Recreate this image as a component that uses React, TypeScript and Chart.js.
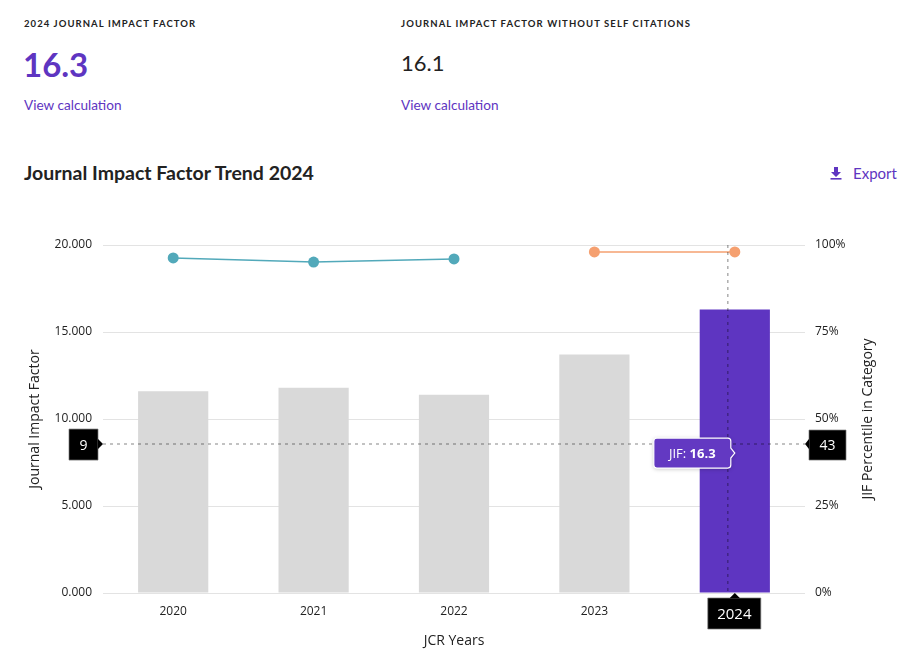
import React, { useEffect, useRef } from "react";
import { Chart, registerables } from "chart.js";

Chart.register(...registerables);

// ---- Data ----
const years = ["2020", "2021", "2022", "2023", "2024"];
const jifValues = [11.6, 11.8, 11.4, 13.7, 16.3];
const percentileA = [96.3, 95.1, 96.0, null, null];
const percentileB = [null, null, null, 98.0, 98.0];
const jifTicks = [0, 5, 10, 15, 20];
const percentileTicks = [0, 25, 50, 75, 100];
const highlightIndex = 4;
const crosshairPercentile = 42.8;
const headerJif = "16.3";
const headerJifNoSelf = "16.1";
const rightAxisTitle = "JIF Percentile in Category";

const PURPLE = "#5e35c1";
const GRAY = "#d9d9d9";
const TEAL = "#52a9ba";
const ORANGE = "#f5a070";
const FONT = "'Open Sans', sans-serif";

function drawBox(
  ctx: CanvasRenderingContext2D,
  x: number,
  y: number,
  w: number,
  h: number,
  caret: "left" | "right" | "up",
  tipX: number,
  tipY: number,
  text: string,
  fontSize: number
) {
  ctx.save();
  ctx.fillStyle = "#000";
  ctx.strokeStyle = "rgba(120,120,120,0.7)";
  ctx.lineWidth = 1;
  ctx.beginPath();
  ctx.rect(x, y, w, h);
  ctx.fill();
  ctx.stroke();
  ctx.beginPath();
  if (caret === "right") {
    ctx.moveTo(x + w, tipY - 5);
    ctx.lineTo(tipX, tipY);
    ctx.lineTo(x + w, tipY + 5);
  } else if (caret === "left") {
    ctx.moveTo(x, tipY - 5);
    ctx.lineTo(tipX, tipY);
    ctx.lineTo(x, tipY + 5);
  } else {
    ctx.moveTo(tipX - 5, y);
    ctx.lineTo(tipX, tipY);
    ctx.lineTo(tipX + 5, y);
  }
  ctx.closePath();
  ctx.fill();
  ctx.fillStyle = "#fff";
  ctx.font = `${fontSize}px ${FONT}`;
  ctx.textAlign = "center";
  ctx.textBaseline = "middle";
  ctx.fillText(text, x + w / 2, y + h / 2 + 1);
  ctx.restore();
}

const overlayPlugin = {
  id: "overlay",
  afterDatasetsDraw(chart: any) {
    const { ctx, chartArea, scales } = chart;
    const { left, right, top, bottom } = chartArea;
    const yPix = scales.yR.getPixelForValue(crosshairPercentile);
    const catX = scales.x.getPixelForValue(highlightIndex);
    const cursorX = catX - 7;

    // crosshair
    ctx.save();
    ctx.strokeStyle = "rgba(0,0,0,0.32)";
    ctx.lineWidth = 1.5;
    ctx.setLineDash([3, 4]);
    ctx.beginPath();
    ctx.moveTo(left, yPix);
    ctx.lineTo(right, yPix);
    ctx.moveTo(cursorX, top);
    ctx.lineTo(cursorX, bottom);
    ctx.stroke();
    ctx.restore();

    // tooltip
    const val = jifValues[highlightIndex];
    const tw = 77;
    const th = 30;
    const tipX = catX;
    const tipY = yPix + 9;
    const bx = tipX - 4 - tw;
    const by = tipY - th / 2;
    ctx.save();
    ctx.shadowColor = "rgba(0,0,0,0.25)";
    ctx.shadowBlur = 4;
    ctx.shadowOffsetY = 1;
    ctx.fillStyle = "#6339c2";
    ctx.strokeStyle = "#fff";
    ctx.lineWidth = 1.2;
    ctx.beginPath();
    const r = 3;
    ctx.moveTo(bx + r, by);
    ctx.lineTo(bx + tw - r, by);
    ctx.quadraticCurveTo(bx + tw, by, bx + tw, by + r);
    ctx.lineTo(bx + tw, tipY - 5);
    ctx.lineTo(tipX, tipY);
    ctx.lineTo(bx + tw, tipY + 5);
    ctx.lineTo(bx + tw, by + th - r);
    ctx.quadraticCurveTo(bx + tw, by + th, bx + tw - r, by + th);
    ctx.lineTo(bx + r, by + th);
    ctx.quadraticCurveTo(bx, by + th, bx, by + th - r);
    ctx.lineTo(bx, by + r);
    ctx.quadraticCurveTo(bx, by, bx + r, by);
    ctx.closePath();
    ctx.fill();
    ctx.shadowColor = "transparent";
    ctx.stroke();
    ctx.fillStyle = "#fff";
    ctx.textBaseline = "middle";
    ctx.textAlign = "left";
    const t1 = "JIF: ";
    const t2 = val.toFixed(1);
    ctx.font = `13px ${FONT}`;
    const w1 = ctx.measureText(t1).width;
    ctx.font = `bold 13px ${FONT}`;
    const w2 = ctx.measureText(t2).width;
    const sx = bx + tw / 2 - (w1 + w2) / 2;
    ctx.font = `13px ${FONT}`;
    ctx.fillText(t1, sx, by + th / 2 + 1);
    ctx.font = `bold 13px ${FONT}`;
    ctx.fillText(t2, sx + w1, by + th / 2 + 1);
    ctx.restore();
  },
  afterDraw(chart: any) {
    const { ctx, chartArea, scales } = chart;
    const { left, right, top, bottom } = chartArea;
    const yPix = scales.yR.getPixelForValue(crosshairPercentile);
    const leftVal = Math.round(scales.y.getValueForPixel(yPix));
    const rightVal = Math.round(crosshairPercentile);
    const catX = scales.x.getPixelForValue(highlightIndex);
    drawBox(ctx, left - 34, yPix - 15, 29, 31, "right", left, yPix, String(leftVal), 14);
    drawBox(ctx, right + 4, yPix - 14, 37, 30, "left", right, yPix, String(rightVal), 14);
    drawBox(ctx, catX - 27, bottom + 5, 53, 31, "up", catX, bottom, years[highlightIndex], 15);

    // right axis title, reading bottom-to-top like the left one
    const yR = scales.yR;
    ctx.save();
    ctx.translate(yR.right - 12.4, (top + bottom) / 2);
    ctx.rotate(-Math.PI / 2);
    ctx.fillStyle = "#222";
    ctx.font = `14px ${FONT}`;
    ctx.textAlign = "center";
    ctx.textBaseline = "middle";
    ctx.fillText(rightAxisTitle, 0, 0);
    ctx.restore();
  },
};

function ChartView() {
  const ref = useRef<HTMLCanvasElement | null>(null);
  useEffect(() => {
    if (!ref.current) return;
    const chart = new Chart(ref.current, {
      data: {
        labels: years,
        datasets: [
          {
            type: "line",
            label: "Percentile A",
            data: percentileA,
            yAxisID: "yR",
            borderColor: TEAL,
            backgroundColor: TEAL,
            borderWidth: 1.5,
            pointRadius: 5.5,
            pointBorderWidth: 0,
            spanGaps: false,
            order: 0,
          },
          {
            type: "line",
            label: "Percentile B",
            data: percentileB,
            yAxisID: "yR",
            borderColor: ORANGE,
            backgroundColor: ORANGE,
            borderWidth: 1.5,
            pointRadius: 5.5,
            pointBorderWidth: 0,
            spanGaps: false,
            order: 0,
          },
          {
            type: "bar",
            label: "JIF",
            data: jifValues,
            yAxisID: "y",
            backgroundColor: jifValues.map((_, i) => (i === highlightIndex ? PURPLE : GRAY)),
            barPercentage: 0.5,
            categoryPercentage: 1,
            order: 1,
          },
        ],
      } as any,
      options: {
        animation: false,
        responsive: false,
        events: [],
        layout: { padding: { left: 15, right: 24, top: 44, bottom: 3 } },
        plugins: { legend: { display: false }, tooltip: { enabled: false } },
        scales: {
          x: {
            grid: { display: false, drawTicks: false },
            border: { display: false },
            ticks: { padding: 11, color: "#222", font: { family: FONT, size: 12 } },
            title: {
              display: true,
              text: "JCR Years",
              color: "#222",
              font: { family: FONT, size: 14 },
            },
            afterFit: (s: any) => {
              s.height = 60;
            },
          },
          y: {
            position: "left",
            min: 0,
            max: 20,
            afterBuildTicks: (s: any) => {
              s.ticks = jifTicks.map((v) => ({ value: v }));
            },
            grid: { color: "#e3e3e3", drawTicks: false, lineWidth: 1 },
            border: { display: false },
            ticks: {
              padding: 11,
              color: "#222",
              font: { family: FONT, size: 12 },
              callback: (v: any) => Number(v).toFixed(3),
            },
            title: {
              display: true,
              text: "Journal Impact Factor",
              color: "#222",
              font: { family: FONT, size: 14 },
            },
            afterFit: (s: any) => {
              s.width = 80;
            },
          },
          yR: {
            position: "right",
            min: 0,
            max: 100,
            afterBuildTicks: (s: any) => {
              s.ticks = percentileTicks.map((v) => ({ value: v }));
            },
            grid: { display: false, drawTicks: false },
            border: { display: false },
            ticks: {
              padding: 10,
              color: "#222",
              font: { family: FONT, size: 12 },
              callback: (v: any) => `${v}%`,
            },
            title: { display: false },
            afterFit: (s: any) => {
              s.width = 75;
            },
          },
        },
      } as any,
      plugins: [overlayPlugin],
    });
    return () => chart.destroy();
  }, []);
  return <canvas ref={ref} width={896} height={455} style={{ width: 896, height: 455, display: "block" }} />;
}

export default function App() {
  const label: React.CSSProperties = {
    position: "absolute",
    top: 10,
    fontFamily: "Lato, sans-serif",
    fontSize: 9.5,
    fontWeight: 700,
    letterSpacing: 1.08,
    color: "#222",
    whiteSpace: "nowrap",
  };
  const link: React.CSSProperties = {
    position: "absolute",
    top: 89,
    fontFamily: "Lato, sans-serif",
    fontSize: 13.6,
    color: PURPLE,
    whiteSpace: "nowrap",
  };
  return (
    <div style={{ position: "relative", width: 896, height: 647, fontFamily: "Lato, sans-serif" }}>
      <div style={{ ...label, left: 16 }}>2024 JOURNAL IMPACT FACTOR</div>
      <div style={{ ...label, left: 393 }}>JOURNAL IMPACT FACTOR WITHOUT SELF CITATIONS</div>
      <div
        style={{
          position: "absolute",
          left: 15,
          top: 36,
          fontSize: 33,
          fontWeight: 700,
          color: PURPLE,
          lineHeight: "40px",
        }}
      >
        {headerJif}
      </div>
      <div
        style={{
          position: "absolute",
          left: 393,
          top: 41,
          fontSize: 22,
          fontWeight: 400,
          color: "#222",
          lineHeight: "28px",
        }}
      >
        {headerJifNoSelf}
      </div>
      <div style={{ ...link, left: 16 }}>View calculation</div>
      <div style={{ ...link, left: 393 }}>View calculation</div>
      <div
        style={{
          position: "absolute",
          left: 16,
          top: 153,
          fontSize: 19.5,
          fontWeight: 700,
          color: "#222",
          whiteSpace: "nowrap",
        }}
      >
        Journal Impact Factor Trend 2024
      </div>
      <div
        style={{
          position: "absolute",
          left: 822,
          top: 156,
          display: "flex",
          alignItems: "center",
          color: PURPLE,
          fontSize: 15,
        }}
      >
        <svg width="12" height="14" viewBox="0 0 12 14" style={{ marginRight: 11 }}>
          <path d="M4 1 H8 V6 H11 L6 11 L1 6 H4 Z" fill={PURPLE} />
          <rect x="0.5" y="12" width="11" height="1.6" fill={PURPLE} />
        </svg>
        <span>Export</span>
      </div>
      <div style={{ position: "absolute", left: 0, top: 193 }}>
        <ChartView />
      </div>
    </div>
  );
}
